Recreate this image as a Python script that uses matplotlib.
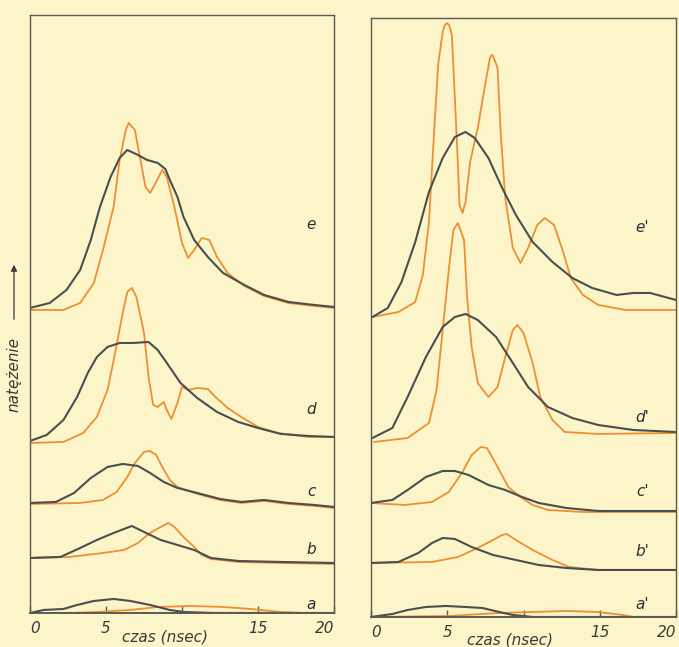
import numpy as np
import matplotlib.pyplot as plt
from matplotlib.patches import FancyArrowPatch

# czas w nsec, natezenie w jednostkach umownych (nad linia bazowa krzywej)
# --- lewy panel ---
e_czas_ciemna = [0, 1.3, 2.4, 3.3, 4.0, 4.6, 5.3, 5.9, 6.4, 7.1, 7.7, 8.4, 8.9, 9.2, 9.7, 10.1, 10.8, 11.7, 12.7, 14.1, 15.4, 17.0, 18.7, 20]
e_nat_ciemna = [1, 6, 19, 39, 69, 102, 132, 151, 159, 154, 149, 146, 140, 129, 112, 92, 69, 52, 36, 24, 14, 7, 4, 2]
e_czas_pom = [0, 2.2, 3.3, 4.2, 4.8, 5.5, 5.9, 6.3, 6.5, 6.9, 7.3, 7.6, 7.9, 8.3, 8.7, 9.0, 9.5, 10.0, 10.4, 10.8, 11.3, 11.8, 12.3, 13.0, 14.1, 15.4, 17.0, 18.7, 20]
e_nat_pom = [-1, -1, 6, 26, 59, 102, 149, 179, 186, 179, 146, 122, 116, 127, 139, 132, 102, 66, 51, 59, 71, 69, 52, 36, 23, 13, 6, 3, 1]

d_czas_ciemna = [0, 1.1, 2.2, 3.1, 3.8, 4.4, 5.1, 5.9, 6.8, 7.8, 8.4, 9.0, 9.9, 11.0, 12.3, 13.7, 15.0, 16.5, 18.3, 20]
d_nat_ciemna = [0, 6, 21, 44, 68, 84, 94, 98, 98, 99, 91, 78, 58, 43, 29, 19, 13, 7, 5, 4]
d_czas_pom = [0, 2.2, 3.5, 4.4, 5.1, 5.6, 6.1, 6.4, 6.7, 7.0, 7.5, 7.8, 8.1, 8.4, 8.8, 9.0, 9.3, 9.7, 10.0, 10.4, 11.0, 11.7, 12.2, 13.0, 13.9, 15.0, 16.3, 18.3, 20]
d_nat_pom = [-2, -1, 8, 24, 51, 88, 128, 149, 153, 144, 108, 64, 36, 34, 39, 31, 22, 38, 54, 51, 53, 52, 44, 33, 24, 14, 8, 4, 4]

c_czas_ciemna = [0, 1.7, 2.9, 4.0, 5.1, 6.1, 7.1, 7.9, 8.8, 9.7, 11.0, 12.5, 13.9, 15.4, 17.0, 18.7, 20]
c_nat_ciemna = [1, 2, 11, 26, 37, 40, 38, 31, 22, 16, 11, 5, 2, 4, 1, -1, -3]
c_czas_pom = [0, 3.3, 4.8, 5.7, 6.4, 6.9, 7.5, 7.9, 8.3, 8.7, 9.2, 9.7, 11.0, 12.5, 13.9, 15.4, 17.0, 18.7, 20]
c_nat_pom = [0, 1, 4, 12, 27, 41, 52, 53, 49, 37, 24, 17, 10, 4, 1, 3, 0, -2, -4]

b_czas_ciemna = [0, 2.0, 3.3, 4.4, 5.5, 6.7, 7.5, 8.6, 9.7, 10.8, 11.9, 13.7, 16.5, 20]
b_nat_ciemna = [0, 1, 10, 18, 25, 32, 26, 18, 13, 8, 0, -3, -4, -5]
b_czas_pom = [0, 2.6, 4.8, 6.2, 7.1, 7.9, 8.6, 9.1, 9.5, 10.1, 10.8, 11.3, 11.9, 13.7, 16.5, 20]
b_nat_pom = [0, 1, 5, 8, 15, 25, 31, 35, 31, 21, 11, 3, -1, -4, -5, -6]

a_czas_ciemna = [0, 0.9, 2.2, 3.1, 4.2, 5.5, 6.6, 7.9, 9.2, 10.1, 12.1, 14.0, 16.0, 18.0, 20]
a_nat_ciemna = [0, 3, 4, 8, 12, 14, 12, 8, 3, 1, 0, 0, 0, 0, 0]
a_czas_pom = [0, 2.4, 4.4, 6.6, 8.4, 10.6, 12.7, 14.5, 16.5, 18.0, 20]
a_nat_pom = [0, 0, 1, 3, 6, 7, 6, 4, 1, 0, 0]

# --- prawy panel ---
e2_czas_ciemna = [0.1, 1.1, 2.0, 2.9, 3.8, 4.7, 5.5, 6.2, 6.8, 7.7, 8.6, 9.5, 10.6, 11.9, 13.2, 14.5, 16.1, 17.2, 18.3, 20]
e2_nat_ciemna = [0, 9, 35, 75, 125, 159, 180, 185, 179, 159, 129, 102, 75, 55, 39, 29, 22, 24, 24, 17]
e2_czas_pom = [0.1, 1.8, 2.9, 3.4, 3.8, 4.1, 4.4, 4.7, 4.85, 5.0, 5.15, 5.3, 5.5, 5.7, 5.8, 6.0, 6.2, 6.5, 7.0, 7.4, 7.8, 7.9, 8.0, 8.3, 8.5, 8.8, 9.3, 9.8, 10.3, 10.9, 11.4, 12.0, 12.6, 13.1, 13.9, 14.9, 16.7, 20]
e2_nat_pom = [0, 5, 15, 42, 95, 175, 252, 285, 292, 294, 291, 282, 219, 152, 112, 104, 115, 155, 189, 225, 259, 262, 261, 249, 185, 119, 69, 54, 69, 92, 99, 92, 65, 39, 22, 12, 7, 7]

d2_czas_ciemna = [0.1, 1.4, 2.4, 3.6, 4.7, 5.5, 6.2, 7.0, 8.2, 9.3, 10.3, 11.6, 13.2, 14.9, 17.2, 20]
d2_nat_ciemna = [2, 12, 43, 83, 113, 123, 126, 120, 103, 77, 53, 33, 22, 15, 10, 8]
d2_czas_pom = [0.2, 2.4, 3.8, 4.3, 4.7, 5.1, 5.4, 5.7, 6.1, 6.3, 6.6, 7.0, 7.7, 8.3, 8.8, 9.3, 9.6, 10.0, 10.6, 11.1, 11.9, 12.7, 14.9, 20]
d2_nat_pom = [-2, 2, 17, 50, 110, 170, 210, 217, 200, 143, 93, 57, 43, 53, 83, 110, 115, 107, 77, 43, 20, 8, 6, 7]

c2_czas_ciemna = [0, 1.4, 2.4, 3.6, 4.7, 5.5, 6.4, 7.7, 8.8, 9.9, 11.0, 12.8, 14.9, 20]
c2_nat_ciemna = [1, 4, 14, 27, 33, 33, 29, 19, 14, 7, 1, -4, -7, -7]
c2_czas_pom = [0, 2.2, 4.0, 5.1, 6.0, 6.6, 7.2, 7.6, 8.3, 9.0, 9.8, 10.6, 11.6, 13.9, 20]
c2_nat_pom = [1, -1, 2, 12, 32, 49, 57, 56, 37, 17, 7, -1, -6, -8, -8]

b2_czas_ciemna = [0, 1.8, 3.1, 4.0, 4.7, 5.5, 6.6, 8.0, 9.5, 11.0, 12.8, 14.9, 20]
b2_nat_ciemna = [1, 2, 11, 21, 26, 25, 17, 9, 4, -1, -4, -6, -6]
b2_czas_pom = [0, 4.0, 5.7, 7.0, 8.0, 8.6, 8.9, 9.5, 10.6, 11.9, 13.0, 14.9, 20]
b2_nat_pom = [1, 2, 7, 16, 24, 29, 30, 24, 14, 4, -3, -6, -6]

a2_czas_ciemna = [0, 1.4, 2.4, 3.6, 4.9, 6.2, 7.3, 8.4, 9.3, 10.6, 20]
a2_nat_ciemna = [0, 3, 7, 10, 11, 10, 9, 5, 2, 0, 0]
a2_czas_pom = [0, 5.1, 8.4, 10.6, 12.8, 14.9, 16.5, 17.2, 20]
a2_nat_pom = [0, 1, 4, 5, 6, 5, 2, 0, 0]

etykiety_lewe = ['e', 'd', 'c', 'b', 'a']
etykiety_prawe = ["e'", "d'", "c'", "b'", "a'"]
przesuniecia_lewe = [304, 172, 109, 55, 0]
przesuniecia_prawe = [300, 177, 113, 53, 0]
podzialka = [0, 5, 10, 15, 20]
podpisy_podzialki = ['0', '5', '', '15', '20']

tlo = '#fbf5c9'
ciemny = '#4a4f50'
pomaranczowy = '#ee8f32'
ramka = '#5a5a50'

fig = plt.figure(figsize=(6.79, 6.47), dpi=100, facecolor=tlo)

lewy = fig.add_axes([0.0442, 0.0526, 0.4477, 0.9243])
prawy = fig.add_axes([0.5464, 0.0464, 0.4492, 0.9258])

krzywe_lewe = [
    (e_czas_ciemna, e_nat_ciemna, e_czas_pom, e_nat_pom),
    (d_czas_ciemna, d_nat_ciemna, d_czas_pom, d_nat_pom),
    (c_czas_ciemna, c_nat_ciemna, c_czas_pom, c_nat_pom),
    (b_czas_ciemna, b_nat_ciemna, b_czas_pom, b_nat_pom),
    (a_czas_ciemna, a_nat_ciemna, a_czas_pom, a_nat_pom),
]
krzywe_prawe = [
    (e2_czas_ciemna, e2_nat_ciemna, e2_czas_pom, e2_nat_pom),
    (d2_czas_ciemna, d2_nat_ciemna, d2_czas_pom, d2_nat_pom),
    (c2_czas_ciemna, c2_nat_ciemna, c2_czas_pom, c2_nat_pom),
    (b2_czas_ciemna, b2_nat_ciemna, b2_czas_pom, b2_nat_pom),
    (a2_czas_ciemna, a2_nat_ciemna, a2_czas_pom, a2_nat_pom),
]

# pozycje etykiet krzywych (czas, wysokosc)
poz_lewe = [(18.5, 388), (18.5, 203), (18.5, 121), (18.5, 63), (18.5, 8)]
poz_prawe = [(17.8, 389), (17.8, 199), (17.8, 125), (17.8, 65), (17.8, 12)]

for ax, krzywe, przes, etyk, poz, gora in [
        (lewy, krzywe_lewe, przesuniecia_lewe, etykiety_lewe, poz_lewe, 598),
        (prawy, krzywe_prawe, przesuniecia_prawe, etykiety_prawe, poz_prawe, 599)]:
    ax.set_facecolor(tlo)
    for (tc, nc, tp, npom), off in zip(krzywe, przes):
        ax.plot(tp, np.array(npom) + off, color=pomaranczowy, lw=1.3,
                solid_joinstyle='round', solid_capstyle='round')
        ax.plot(tc, np.array(nc) + off, color=ciemny, lw=1.5,
                solid_joinstyle='round', solid_capstyle='round')
    for lab, (px, py) in zip(etyk, poz):
        ax.text(px, py, lab, fontsize=11, style='italic', color='#2e2e2e',
                ha='center', va='center')
    ax.set_xlim(0, 20)
    ax.set_ylim(0, gora)
    ax.set_xticks(podzialka)
    ax.set_xticklabels(podpisy_podzialki)
    ax.set_yticks([])
    ax.tick_params(axis='x', direction='in', length=5, width=1, color=ramka,
                   labelsize=11, labelcolor='#3a3a3a', pad=6)
    for t in ax.get_xticklabels():
        t.set_style('italic')
    ax.get_xticklabels()[0].set_ha('left')
    ax.get_xticklabels()[-1].set_ha('right')
    for s in ax.spines.values():
        s.set_color(ramka)
        s.set_linewidth(1.0)
    ax.spines['bottom'].set_linewidth(1.4)

fig.text(165 / 679, 1 - 637 / 647, 'czas (nsec)', fontsize=11, style='italic',
         color='#3a3a3a', ha='center', va='center')
fig.text(510 / 679, 1 - 640 / 647, 'czas (nsec)', fontsize=11, style='italic',
         color='#3a3a3a', ha='center', va='center')

fig.text(14 / 679, 1 - 375 / 647, 'natężenie', fontsize=11, style='italic',
         color='#3a3a3a', rotation=90, ha='center', va='center')
fig.add_artist(FancyArrowPatch(
    (14 / 679, 1 - 322 / 647), (14 / 679, 1 - 262 / 647),
    transform=fig.transFigure, arrowstyle='-|>', mutation_scale=9,
    color='#3a3a3a', lw=0.9))

fig.savefig('out.png', dpi=100, facecolor=tlo)
